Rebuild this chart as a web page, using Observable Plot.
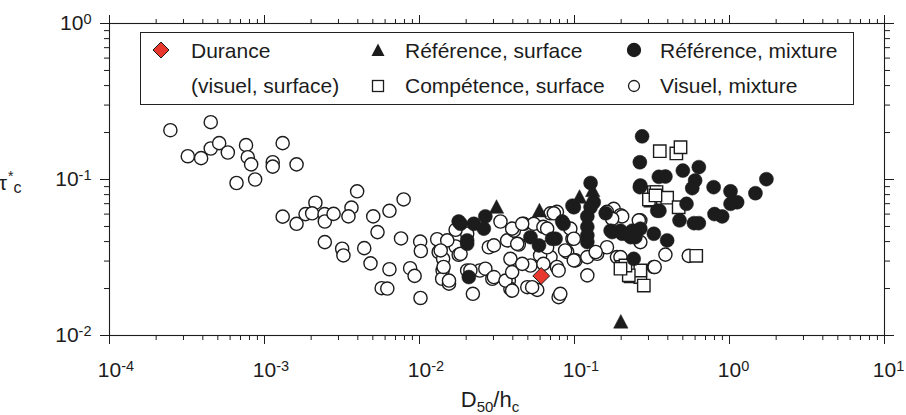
<!DOCTYPE html>
<html>
<head>
<meta charset="utf-8">
<script src="https://cdn.jsdelivr.net/npm/d3@7"></script>
<script src="https://cdn.jsdelivr.net/npm/@observablehq/plot@0.6"></script>
<style>
  html, body { margin: 0; padding: 0; background: #fff; }
  #wrap { position: relative; width: 906px; height: 415px; overflow: hidden;
          font-family: "Liberation Sans", Arial, Helvetica, sans-serif; color: #1c1c1c; }
  #legend { position: absolute; left: 140px; top: 32px; width: 714px; height: 73px;
            border: 1px solid #222; background: #fff; box-sizing: border-box; }
  .li { position: absolute; font-size: 21px; line-height: 21px; white-space: nowrap; }
  .sym { position: absolute; }
</style>
</head>
<body>
<div id="wrap"></div>
<script>
// ---- data (x = D50/hc, y = tau*c) ----
const durance = [[0.061, 0.0241]];

const referenceSurface = [
  [3.14e-2, 0.0664], [5.94e-2, 0.063], [0.1077, 0.077], [0.131, 0.085], [0.199, 0.0122]
];

const competenceSurface = [
  [0.309, 0.0733], [0.325, 0.083], [0.203, 0.0275], [0.23, 0.0239], [0.266, 0.0237],
  [0.28, 0.0209], [0.355, 0.152], [0.454, 0.147], [0.483, 0.161], [0.338, 0.083],
  [0.396, 0.0765], [0.47, 0.0664], [0.61, 0.0324], [0.266, 0.0261], [0.224, 0.0243],
  [0.302, 0.0745], [0.333, 0.079], [0.213, 0.0281], [0.198, 0.0268]
];

const referenceMixture = [
  [1.79e-2, 0.0538], [2.24e-2, 0.052], [2.03e-2, 0.0387], [2.08e-2, 0.0237], [2.66e-2, 0.058],
  [2.6e-2, 0.0484], [1.84e-2, 0.052], [2.03e-2, 0.0407], [5.2e-2, 0.0427], [5.9e-2, 0.0378],
  [7.55e-2, 0.0417], [8.5e-2, 0.052], [9.9e-2, 0.0664], [0.121, 0.058], [0.121, 0.0497],
  [0.121, 0.0438], [0.121, 0.0397], [0.133, 0.0715], [0.127, 0.095], [0.159, 0.0607],
  [0.175, 0.046], [0.203, 0.0449], [0.236, 0.047], [0.266, 0.0484], [0.325, 0.0449],
  [0.23, 0.0427], [0.241, 0.031], [0.266, 0.0915], [0.35, 0.104], [0.342, 0.063],
  [0.273, 0.189], [0.264, 0.129], [0.264, 0.0893], [0.386, 0.1045], [0.50, 0.114],
  [0.634, 0.12], [0.60, 0.0985], [0.575, 0.088], [0.79, 0.0893], [1.015, 0.084],
  [1.015, 0.0698], [1.47, 0.0817], [1.73, 0.1005], [0.353, 0.063], [0.528, 0.0698],
  [0.476, 0.0547], [0.59, 0.0525], [0.634, 0.0525], [0.80, 0.060], [0.897, 0.058],
  [1.12, 0.0715], [0.396, 0.0407], [0.198, 0.047], [9.7e-2, 0.068], [0.127, 0.0664],
  [8.33e-2, 0.0538], [7.17e-2, 0.0417], [0.171, 0.047], [0.224, 0.0449], [0.247, 0.0427]
];

const visuelMixture = [
  [2.47e-4, 0.207], [4.5e-4, 0.233], [3.2e-4, 0.141], [3.9e-4, 0.137], [4.5e-4, 0.158],
  [5.1e-4, 0.171], [5.8e-4, 0.149], [7.6e-4, 0.166], [7.8e-4, 0.139], [8.2e-4, 0.125],
  [1.13e-3, 0.129], [1.13e-3, 0.121], [1.31e-3, 0.171], [1.61e-3, 0.125], [6.6e-4, 0.095],
  [8.7e-4, 0.100], [1.31e-3, 0.0578], [1.61e-3, 0.052],
  [3.96e-3, 0.084], [2.13e-3, 0.071], [3.64e-3, 0.066], [7.9e-3, 0.0745], [6.4e-3, 0.063],
  [1.84e-3, 0.060], [2.03e-3, 0.0607], [2.44e-3, 0.060], [2.45e-3, 0.0538], [2.79e-3, 0.0602],
  [3.48e-3, 0.058], [5.03e-3, 0.058], [5.36e-3, 0.046], [2.45e-3, 0.0397], [3.17e-3, 0.036],
  [3.23e-3, 0.0326], [4.4e-3, 0.0363], [4.83e-3, 0.029], [6.4e-3, 0.0266], [7.6e-3, 0.0419],
  [5.7e-3, 0.0201], [6.2e-3, 0.0200], [8.7e-3, 0.027], [9.3e-3, 0.0241], [1.015e-2, 0.0174],
  [1.01e-2, 0.040], [1.02e-2, 0.0348], [1.30e-2, 0.0414], [1.33e-2, 0.0343], [1.42e-2, 0.031],
  [1.41e-2, 0.0261], [1.4e-2, 0.0231], [1.55e-2, 0.0215], [1.71e-2, 0.0372], [1.79e-2, 0.0329],
  [2.21e-2, 0.0185], [2.03e-2, 0.0449], [1.71e-2, 0.0476], [2.03e-2, 0.0261], [2.45e-2, 0.0261],
  [3.33e-2, 0.0538], [3.68e-2, 0.0407], [4.06e-2, 0.047], [4.37e-2, 0.0383], [3.86e-2, 0.031],
  [4.7e-2, 0.052], [5.46e-2, 0.052], [7.0e-2, 0.0607], [7.7e-2, 0.062], [6.3e-2, 0.0497],
  [7.0e-2, 0.0318], [7.7e-2, 0.0275], [8.97e-2, 0.0343], [0.1015, 0.0303], [9.7e-2, 0.0417],
  [0.121, 0.0318], [0.121, 0.0243], [0.140, 0.0334], [0.162, 0.0368], [0.188, 0.0318],
  [0.179, 0.0648], [0.198, 0.059], [0.266, 0.0547], [0.266, 0.0397], [0.325, 0.0275],
  [2.13e-2, 0.0261], [2.66e-2, 0.0268], [2.95e-2, 0.0231], [3.77e-2, 0.0225], [3.86e-2, 0.0199],
  [4.96e-2, 0.0204], [5.75e-2, 0.0196], [7.9e-2, 0.0176], [1.84e-2, 0.0334], [2.8e-2, 0.0368],
  [5.2e-2, 0.0281], [0.546, 0.0324], [0.386, 0.033], [0.329, 0.0275], [0.198, 0.0318],
  [0.203, 0.058], [3.96e-2, 0.0484], [4.6e-2, 0.052], [4.27e-2, 0.0387], [3.02e-2, 0.0378],
  [1.51e-2, 0.0407], [1.37e-2, 0.0351], [1.43e-2, 0.0275], [3.02e-2, 0.0237], [3.59e-2, 0.0225],
  [3.96e-2, 0.0255], [4.6e-2, 0.0288], [6.0e-2, 0.0326], [7.36e-2, 0.0607], [3.96e-2, 0.0194],
  [5.33e-2, 0.0204], [1.55e-2, 0.0225], [6.66e-2, 0.0484], [6.66e-2, 0.0368], [0.162, 0.062],
  [0.175, 0.056], [0.26, 0.0547], [9.4e-2, 0.0484], [9.9e-2, 0.0417], [8.7e-2, 0.0351],
  [6.3e-2, 0.0288], [9.9e-2, 0.0303], [0.137, 0.0343], [8.1e-2, 0.0185], [7.9e-2, 0.0261]
];

const xMajorTicks = [1e-4, 1e-3, 1e-2, 1e-1, 1, 10];
const yMajorTicks = [1e-2, 1e-1, 1];

const legendLabels = {
  durance: ["Durance", "(visuel, surface)"],
  refSurf: "Référence, surface",
  compSurf: "Compétence, surface",
  refMix: "Référence, mixture",
  visMix: "Visuel, mixture"
};

// ---- symbols (geometry from Plot's r) ----
const rOf = size => Math.sqrt(size / Math.PI);
const symSquare = { draw(c, size) { const r = rOf(size); c.rect(-r, -r, 2 * r, 2 * r); } };
const symTriangle = { draw(c, size) { const r = rOf(size); c.moveTo(0, -r * 1.05); c.lineTo(r, r * 0.85); c.lineTo(-r, r * 0.85); c.closePath(); } };
const symDiamond = { draw(c, size) { const r = rOf(size); c.moveTo(0, -r); c.lineTo(r, 0); c.lineTo(0, r); c.lineTo(-r, 0); c.closePath(); } };

const INK = "#1c1c1c";
const FS = 21;

const xMinor = d3.scaleLog().domain([1e-4, 10]).ticks().filter(v => !xMajorTicks.some(m => Math.abs(m - v) / m < 1e-9));
const yMinor = d3.scaleLog().domain([1e-2, 1]).ticks().filter(v => !yMajorTicks.some(m => Math.abs(m - v) / m < 1e-9));
const supFmt = d => "10^" + Math.round(Math.log10(d));

const px = d => d[0], py = d => d[1];

const chart = Plot.plot({
  width: 906, height: 415,
  marginLeft: 109, marginRight: 22, marginTop: 23, marginBottom: 80,
  style: { fontFamily: "Liberation Sans, Arial, Helvetica, sans-serif", fontSize: FS + "px", color: INK, background: "transparent", overflow: "visible" },
  x: { type: "log", domain: [1e-4, 10] },
  y: { type: "log", domain: [1e-2, 1] },
  marks: [
    Plot.axisX({ anchor: "bottom", ticks: xMinor, tickSize: 5, tickFormat: () => "", label: null }),
    Plot.axisX({ anchor: "bottom", ticks: xMajorTicks, tickSize: 9, tickPadding: 18, tickFormat: supFmt, label: null }),
    Plot.axisX({ anchor: "top", ticks: xMinor, tickSize: 5, tickFormat: () => "", label: null }),
    Plot.axisX({ anchor: "top", ticks: xMajorTicks, tickSize: 9, tickFormat: () => "", label: null }),
    Plot.axisY({ anchor: "left", ticks: yMinor, tickSize: 5, tickFormat: () => "", label: null }),
    Plot.axisY({ anchor: "left", ticks: yMajorTicks, tickSize: 9, tickPadding: 9, tickFormat: supFmt, label: null }),
    Plot.axisY({ anchor: "right", ticks: yMinor, tickSize: 5, tickFormat: () => "", label: null }),
    Plot.axisY({ anchor: "right", ticks: yMajorTicks, tickSize: 9, tickFormat: () => "", label: null }),
    Plot.frame({ stroke: INK, strokeWidth: 1.1 }),
    Plot.dot(visuelMixture, { x: px, y: py, r: 6.6, fill: "white", stroke: INK, strokeWidth: 1.4 }),
    Plot.dot(competenceSurface, { x: px, y: py, r: 6.2, symbol: symSquare, fill: "white", stroke: INK, strokeWidth: 1.4 }),
    Plot.dot(referenceMixture, { x: px, y: py, r: 7, fill: INK, stroke: INK, strokeWidth: 0.5 }),
    Plot.dot(referenceSurface, { x: px, y: py, r: 7.2, symbol: symTriangle, fill: INK, stroke: INK, strokeWidth: 0.5 }),
    Plot.dot(durance, { x: px, y: py, r: 8.4, symbol: symDiamond, fill: "#e8372c", stroke: INK, strokeWidth: 1 })
  ]
});

const wrap = document.getElementById("wrap");
wrap.appendChild(chart);

// superscript exponents in tick labels
const svgNS = "http://www.w3.org/2000/svg";
chart.querySelectorAll("text").forEach(t => {
  const s = t.textContent;
  if (!s.includes("^")) return;
  const [base, exp] = s.split("^");
  const isX = t.closest('g[aria-label="x-axis tick label"]') !== null;
  t.textContent = "";
  const a = document.createElementNS(svgNS, "tspan");
  a.textContent = base;
  t.appendChild(a);
  const b = document.createElementNS(svgNS, "tspan");
  b.textContent = exp;
  b.setAttribute("dy", "-0.45em");
  b.setAttribute("font-size", "14.5px");
  if (isX) {
    b.setAttribute("x", (FS * 0.556).toFixed(2));
    b.setAttribute("text-anchor", "start");
  }
  t.appendChild(b);
});

// axis titles
const svg = d3.select(chart);
const xt = svg.append("text").attr("x", 490).attr("y", 407).attr("text-anchor", "middle")
  .attr("font-size", 22).attr("fill", INK);
xt.append("tspan").text("D");
xt.append("tspan").attr("font-size", 15).attr("dy", 5).text("50");
xt.append("tspan").attr("dy", -5).text("/h");
xt.append("tspan").attr("font-size", 15).attr("dy", 5).text("c");

const yt = svg.append("text").attr("x", 10).attr("y", 190).attr("font-size", 21).attr("fill", INK);
yt.append("tspan").text("τ");
yt.append("tspan").attr("font-size", 14).attr("dy", -9).attr("dx", 1).text("*");
yt.append("tspan").attr("font-size", 16).attr("dy", 12).text("c");

// legend (HTML overlay inside the plot frame)
const lg = document.createElement("div");
lg.id = "legend";
wrap.appendChild(lg);
function sym(kind, cx, cy) {
  const s = 18;
  const el = document.createElementNS(svgNS, "svg");
  el.setAttribute("width", s); el.setAttribute("height", s);
  el.setAttribute("class", "sym");
  el.style.left = (cx - 141 - s / 2) + "px";
  el.style.top = (cy - 33 - s / 2) + "px";
  let shape;
  if (kind === "diamond") {
    shape = document.createElementNS(svgNS, "path");
    shape.setAttribute("d", "M9,1L17,9L9,17L1,9Z");
    shape.setAttribute("fill", "#e8372c"); shape.setAttribute("stroke", INK);
  } else if (kind === "triangle") {
    shape = document.createElementNS(svgNS, "path");
    shape.setAttribute("d", "M9,2.5L15.5,15L2.5,15Z");
    shape.setAttribute("fill", INK);
  } else if (kind === "square") {
    shape = document.createElementNS(svgNS, "rect");
    shape.setAttribute("x", 3.5); shape.setAttribute("y", 3.5);
    shape.setAttribute("width", 11); shape.setAttribute("height", 11);
    shape.setAttribute("fill", "white"); shape.setAttribute("stroke", INK); shape.setAttribute("stroke-width", 1.3);
  } else {
    shape = document.createElementNS(svgNS, "circle");
    shape.setAttribute("cx", 9); shape.setAttribute("cy", 9);
    shape.setAttribute("r", kind === "filled" ? 6.5 : 5.5);
    shape.setAttribute("fill", kind === "filled" ? INK : "white");
    shape.setAttribute("stroke", INK); shape.setAttribute("stroke-width", 1.3);
  }
  el.appendChild(shape);
  lg.appendChild(el);
}
// baseline-based placement: top = baseline - 17.8 for 21px text with 21px line-height
function label(text, left, baseline) {
  const d = document.createElement("div");
  d.className = "li";
  d.textContent = text;
  d.style.left = (left - 141) + "px";
  d.style.top = (baseline - 17.8 - 33) + "px";
  lg.appendChild(d);
}
sym("diamond", 161, 50);
label(legendLabels.durance[0], 191, 58);
label(legendLabels.durance[1], 191, 93);
sym("triangle", 378, 50);
label(legendLabels.refSurf, 405, 58);
sym("square", 378, 86);
label(legendLabels.compSurf, 405, 93);
sym("filled", 634, 50);
label(legendLabels.refMix, 660, 58);
sym("open", 634, 86);
label(legendLabels.visMix, 660, 93);
</script>
</body>
</html>
